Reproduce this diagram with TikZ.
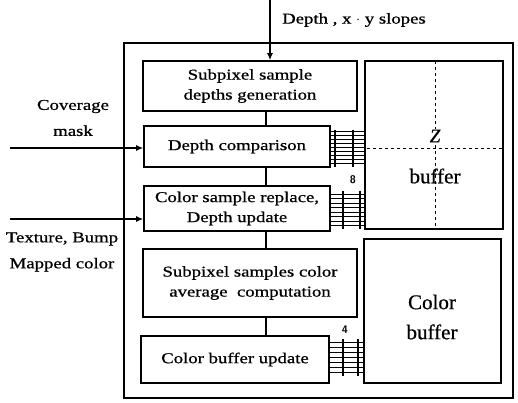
\documentclass[tikz,border=0pt]{standalone}
\usepackage{fontspec}
\setmainfont{Liberation Serif}
\newfontfamily\wide[FakeStretch=1.25,FakeBold=0.8]{Liberation Serif}
\newfontfamily\heavy[FakeBold=0.6]{Liberation Serif}
\usetikzlibrary{arrows.meta}
\begin{document}
\begin{tikzpicture}[x=1pt,y=-1pt,
  blk/.style 2 args={draw,line width=1.6pt,minimum width=#1,minimum height=#2,inner sep=0pt,align=center,
    font=\wide\fontsize{15}{20}\selectfont},
  buf/.style 2 args={draw,line width=1.6pt,minimum width=#1,minimum height=#2,inner sep=0pt},
  lbl/.style={inner sep=0pt,align=center,font=\wide\fontsize{15}{26}\selectfont},
  big/.style={inner sep=0pt,font=\heavy\fontsize{21}{24}\selectfont},
  conn/.style={line width=1.3pt},
  arr/.style={line width=1.3pt,-{Latex[length=7pt,width=6pt]}},
  bus/.style={line width=1pt},
  tick/.style={line width=2.6pt},
  dsh/.style={line width=1pt,dash pattern=on 3pt off 3pt}]
\useasboundingbox (0,0) rectangle (518,403);
% outer frame
\draw[line width=1.3pt] (124,43) rectangle (513,398);
% blocks
\node[blk={214pt}{50pt}] (b1) at (250,86) {Subpixel sample\\depths generation};
\node[blk={186pt}{41pt}] (b2) at (237,146.5) {Depth comparison};
\node[blk={186pt}{45pt}] (b3) at (237,208.5) {Color sample replace,\\Depth update};
\node[blk={214pt}{68pt}] (b4) at (250,283) {Subpixel samples color\\average\ \ computation};
\node[blk={188pt}{47pt}] (b5) at (235,359.5) {Color buffer update};
% buffers
\node[buf={138pt}{168pt}] (zb) at (434,145) {};
\node[buf={137pt}{144pt}] (cb) at (432.5,311) {};
\draw[dsh] (435,61) -- (435,229);
\draw[dsh] (367,149) -- (503,149);
\node[big,font=\heavy\itshape\fontsize{19}{22}\selectfont,fill=white,inner sep=1pt] (zl) at (435,136) {Z};
\node[big] (zbt) at (435,176) {buffer};
\node[big,align=center,font=\heavy\fontsize{21}{30}\selectfont] (cbt) at (432,317) {Color\\buffer};
% vertical connectors
\coordinate (vx) at (266,0);
\draw[conn] (b1.south -| vx) -- (b2.north -| vx);
\draw[conn] (b2.south -| vx) -- (b3.north -| vx);
\draw[conn] (b3.south -| vx) -- (b4.north -| vx);
\draw[conn] (b4.south -| vx) -- (b5.north -| vx);
% inputs
\coordinate (tin) at (270,0);
\draw[arr] (tin) -- (b1.north -| tin);
\node[lbl,anchor=west] (tl) at (282,20) {Depth , x $\cdot$ y slopes};
\coordinate (cin) at (10,148);
\draw[arr] (cin) -- (b2.west |- cin);
\node[lbl] (cl) at (73,118) {Coverage\\mask};
\coordinate (xin) at (10,219);
\draw[arr] (xin) -- (b3.west |- xin);
\node[lbl] (xl) at (62,252) {Texture, Bump\\Mapped color};
% buses
\foreach \y in {132,136,...,164} {
  \coordinate (p) at (0,\y);
  \draw[bus] (b2.east |- p) -- (zb.west |- p);
}
\draw[tick] (335,130) -- (335,167);
\draw[tick] (353,130) -- (353,167);
\foreach \y in {194,198.5,...,226} {
  \coordinate (p) at (0,\y);
  \draw[bus] (b3.east |- p) -- (zb.west |- p);
}
\draw[tick] (343,191) -- (343,229);
\draw[tick] (360,191) -- (360,229);
\foreach \y in {342,347,...,372} {
  \coordinate (p) at (0,\y);
  \draw[bus] (b5.east |- p) -- (cb.west |- p);
}
\draw[tick] (343,339) -- (343,376);
\draw[tick] (358,339) -- (358,376);
\node[font=\sffamily\bfseries\fontsize{11}{12}\selectfont,inner sep=0pt] (n8) at (353,180) {8};
\node[font=\sffamily\bfseries\fontsize{11}{12}\selectfont,inner sep=0pt] (n4) at (345,330) {4};
\end{tikzpicture}
\end{document}
